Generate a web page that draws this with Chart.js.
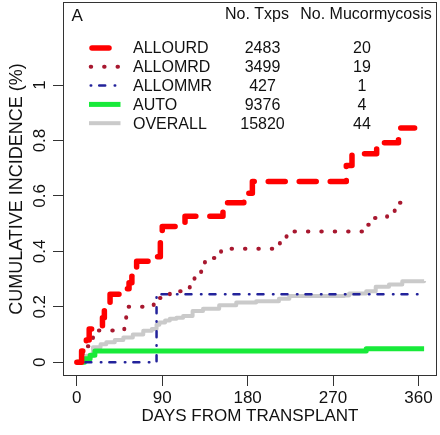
<!DOCTYPE html>
<html>
<head>
<meta charset="utf-8">
<script src="https://cdn.jsdelivr.net/npm/chart.js@4.4.1/dist/chart.umd.min.js"></script>
<style>
  html, body { margin: 0; padding: 0; background: #ffffff; }
  #wrap { width: 440px; height: 435px; }
</style>
</head>
<body>
<div id="wrap"><canvas id="c" width="440" height="435"></canvas></div>
<script>
// ---------------- DATA ----------------
const panelLabel = 'A';
const xTitle = 'DAYS FROM TRANSPLANT';
const yTitle = 'CUMULATIVE INCIDENCE (%)';
const xTickValues = [0, 90, 180, 270, 360];
const xTickLabels = ['0', '90', '180', '270', '360'];
const yTickValues = [0, 0.2, 0.4, 0.6, 0.8, 1];
const yTickLabels = ['0', '0.2', '0.4', '0.6', '0.8', '1'];

const seriesNames = ['ALLOURD', 'ALLOMRD', 'ALLOMMR', 'AUTO', 'OVERALL'];
const headerTxps = 'No. Txps';
const headerMucor = 'No. Mucormycosis';
const numTxps = ['2483', '3499', '427', '9376', '15820'];
const numMucor = ['20', '19', '1', '4', '44'];

const allourdDays = [0, 5, 10, 13, 27, 29, 35, 48, 55, 58, 63, 82, 88, 90, 114, 154, 176, 185, 284, 290, 316, 339, 356];
const allourdInc  = [0, 0.04, 0.08, 0.12, 0.16, 0.2, 0.245, 0.265, 0.287, 0.31, 0.364, 0.38, 0.445, 0.49, 0.527, 0.575, 0.61, 0.652, 0.71, 0.752, 0.792, 0.845, 0.845];

const allomrdDays = [0, 4, 8, 13, 17, 50, 52, 53, 81, 98, 119, 124, 131, 135, 152, 214, 221, 227, 303, 314, 327, 335, 352];
const allomrdInc  = [0, 0.029, 0.057, 0.086, 0.114, 0.143, 0.171, 0.2, 0.232, 0.256, 0.29, 0.32, 0.346, 0.376, 0.409, 0.436, 0.454, 0.472, 0.496, 0.52, 0.544, 0.575, 0.575];

const allommrDays = [0, 84, 365];
const allommrInc  = [0, 0.245, 0.245];

const autoDays = [0, 8, 14, 19, 305, 366];
const autoInc  = [0, 0.012, 0.025, 0.04, 0.048, 0.048];

const overallDays = [0, 5, 10, 17, 25, 31, 40, 49, 59, 70, 79, 84, 87, 93, 98, 105, 112, 122, 133, 150, 168, 189, 213, 224, 282, 287, 305, 315, 329, 343, 366];
const overallInc  = [0, 0.01, 0.023, 0.054, 0.065, 0.072, 0.08, 0.089, 0.1, 0.113, 0.12, 0.135, 0.143, 0.15, 0.157, 0.16, 0.167, 0.185, 0.193, 0.205, 0.215, 0.22, 0.229, 0.239, 0.241, 0.248, 0.256, 0.272, 0.28, 0.292, 0.293];

// ---------------- STYLES ----------------
const FONT = '"Liberation Sans", Arial, Helvetica, sans-serif';
const styles = [
  { color: '#ff0000', width: 5.5, dash: [17, 14],          cap: 'round' },
  { color: '#a8182f', width: 4,   dash: [0.5, 12.9],       cap: 'round' },
  { color: '#23239b', width: 2.5, dash: [0.5, 8, 6, 9.5],  cap: 'round' },
  { color: '#18ea3a', width: 5,   dash: [],                cap: 'butt'  },
  { color: '#cacaca', width: 4,   dash: [],                cap: 'butt'  }
];

function pts(days, vals) { return days.map((d, i) => ({ x: d, y: vals[i] })); }
const seriesData = [
  pts(allourdDays, allourdInc),
  pts(allomrdDays, allomrdInc),
  pts(allommrDays, allommrInc),
  pts(autoDays, autoInc),
  pts(overallDays, overallInc)
];

const datasets = seriesData.map((d, i) => ({
  label: seriesNames[i],
  data: d,
  stepped: 'before',
  borderColor: styles[i].color,
  borderWidth: styles[i].width,
  borderDash: styles[i].dash,
  borderCapStyle: styles[i].cap,
  borderJoinStyle: 'round',
  pointRadius: 0,
  fill: false,
  tension: 0
}));

// ---------------- PLUGINS ----------------
const bgPlugin = {
  id: 'bg',
  beforeDraw(chart) {
    const ctx = chart.ctx;
    ctx.save();
    ctx.fillStyle = '#ffffff';
    ctx.fillRect(0, 0, chart.width, chart.height);
    ctx.restore();
  }
};

const decorPlugin = {
  id: 'decor',
  afterDraw(chart) {
    const ctx = chart.ctx;
    const a = chart.chartArea;
    const ys = chart.scales.y;
    ctx.save();
    // box
    ctx.strokeStyle = '#333333';
    ctx.lineWidth = 1;
    ctx.setLineDash([]);
    ctx.strokeRect(Math.round(a.left) + 0.5, Math.round(a.top) + 0.5,
                   Math.round(a.right - a.left) - 1, Math.round(a.bottom - a.top) - 1);
    // y tick labels, rotated like R
    ctx.fillStyle = '#111111';
    ctx.font = '17px ' + FONT;
    ctx.textAlign = 'center';
    ctx.textBaseline = 'middle';
    yTickValues.forEach((v, i) => {
      const py = ys.getPixelForValue(v);
      ctx.save();
      ctx.translate(40, py);
      ctx.rotate(-Math.PI / 2);
      ctx.fillText(yTickLabels[i], 0, 0);
      ctx.restore();
    });
    // panel label
    ctx.font = '17px ' + FONT;
    ctx.textAlign = 'left';
    ctx.fillText(panelLabel, 71.5, 16);
    // legend header
    ctx.font = '16px ' + FONT;
    ctx.textAlign = 'center';
    ctx.fillText(headerTxps, 257, 15);
    ctx.fillText(headerMucor, 366, 15);
    // legend rows
    const rowY0 = 48, rowGap = 18.8;
    seriesNames.forEach((name, i) => {
      const y = rowY0 + i * rowGap;
      const s = styles[i];
      ctx.save();
      ctx.strokeStyle = s.color;
      ctx.lineWidth = s.width;
      ctx.lineCap = s.cap;
      ctx.setLineDash(s.dash);
      ctx.beginPath();
      let x0 = 89, x1 = 120.5;
      if (i === 0) { x0 = 92; x1 = 109; }
      if (i === 1 || i === 2) { x0 = 90.7; x1 = 120; }
      ctx.moveTo(x0, y);
      ctx.lineTo(x1, y);
      ctx.stroke();
      ctx.restore();
      ctx.fillStyle = '#111111';
      ctx.textAlign = 'left';
      ctx.fillText(name, 133, y + 1);
      ctx.textAlign = 'center';
      ctx.fillText(numTxps[i], 262.5, y + 1);
      ctx.fillText(numMucor[i], 362, y + 1);
    });
    ctx.restore();
  }
};

// ---------------- CHART ----------------
new Chart(document.getElementById('c'), {
  type: 'line',
  data: { datasets },
  plugins: [bgPlugin, decorPlugin],
  options: {
    responsive: false,
    devicePixelRatio: 1,
    animation: false,
    layout: { padding: { top: 2, right: 3, left: 0, bottom: 0 } },
    plugins: { legend: { display: false }, tooltip: { enabled: false } },
    scales: {
      x: {
        type: 'linear',
        min: -14.6,
        max: 379.6,
        afterBuildTicks(scale) { scale.ticks = xTickValues.map(v => ({ value: v })); },
        afterFit(scale) { scale.height = 59; },
        ticks: {
          autoSkip: false,
          maxRotation: 0,
          padding: 2,
          color: '#111111',
          font: { family: FONT, size: 17 },
          callback(v) { const k = xTickValues.indexOf(v); return k >= 0 ? xTickLabels[k] : ''; }
        },
        grid: { display: true, drawOnChartArea: false, drawTicks: true, tickLength: 10, color: '#333333', lineWidth: 1 },
        border: { display: false },
        title: { display: true, text: xTitle, color: '#111111', font: { family: FONT, size: 17 }, padding: { top: 0, bottom: 8 } }
      },
      y: {
        type: 'linear',
        min: -0.05,
        max: 1.30,
        afterBuildTicks(scale) { scale.ticks = yTickValues.map(v => ({ value: v })); },
        afterFit(scale) { scale.width = 63; },
        ticks: { display: false },
        grid: { display: true, drawOnChartArea: false, drawTicks: true, tickLength: 10, color: '#333333', lineWidth: 1 },
        border: { display: false },
        title: { display: true, text: yTitle, color: '#111111', font: { family: FONT, size: 18 }, padding: { top: 6, bottom: 0 } }
      }
    }
  }
});
</script>
</body>
</html>
